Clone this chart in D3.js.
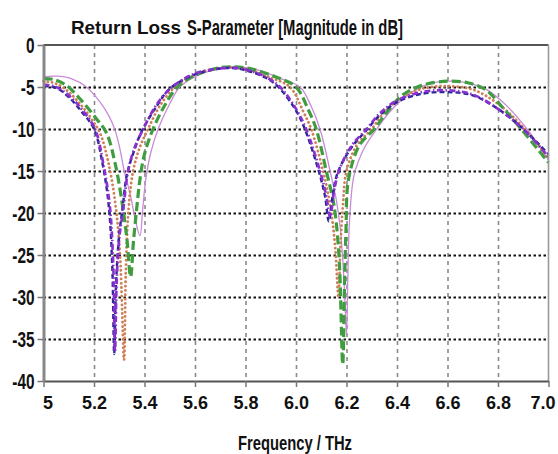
<!DOCTYPE html>
<html><head><meta charset="utf-8">
<script src="https://cdn.jsdelivr.net/npm/d3@7"></script>
<style>body{margin:0;background:#fff}svg{display:block}</style>
</head><body><svg id="c" width="558" height="454"></svg>
<script>
// ---- data ----
const xTicks = [5.0, 5.2, 5.4, 5.6, 5.8, 6.0, 6.2, 6.4, 6.6, 6.8, 7.0];
const xTickLabels = ["5", "5.2", "5.4", "5.6", "5.8", "6.0", "6.2", "6.4", "6.6", "6.8", "7.0"];
const yTicks = [0, -5, -10, -15, -20, -25, -30, -35, -40];
const yTickLabels = ["0", "-5", "-10", "-15", "-20", "-25", "-30", "-35", "-40"];
const titleMain = "Return Loss";
const titleSub = "S-Parameter [Magnitude in dB]";
const xTitle = "Frequency / THz";

const orchidFreq = [5.00,5.05,5.11,5.17,5.224,5.26,5.283,5.30,5.32,5.345,5.365,5.382,5.393,5.405,5.425,5.454,5.50,5.54,5.62,5.72,5.78,5.85,5.94,6.016,6.06,6.095,6.135,6.16,6.176,6.19,6.20,6.205,6.212,6.23,6.27,6.32,6.37,6.44,6.52,6.60,6.68,6.76,6.84,6.92,7.00];
const orchidDb   = [-3.8,-3.7,-4.0,-5.0,-6.8,-8.5,-10.1,-12,-15,-18,-21,-22.7,-19.5,-16,-12.8,-10,-7,-5,-3.5,-2.7,-2.6,-3.0,-4.0,-5,-7.3,-10,-15,-18.5,-22,-28,-34.5,-28,-21,-15.5,-12.3,-10,-8,-6,-4.7,-4.3,-4.5,-5.4,-7.4,-10.2,-13.7];

const orangeFreq = [5.00,5.05,5.10,5.15,5.19,5.224,5.257,5.285,5.303,5.319,5.326,5.337,5.355,5.38,5.414,5.46,5.52,5.60,5.70,5.76,5.82,5.90,5.976,6.03,6.06,6.107,6.135,6.155,6.168,6.176,6.186,6.20,6.24,6.30,6.35,6.42,6.50,6.60,6.70,6.80,6.90,7.00];
const orangeDb   = [-4.3,-4.6,-5.6,-7.2,-8.8,-10.5,-14,-19,-25,-37.5,-27,-19.5,-15,-12.3,-10,-7.3,-5,-3.5,-2.75,-2.7,-3.0,-3.9,-5,-8,-10,-15,-19,-24,-30,-24,-19,-15,-12,-10,-8,-6.3,-5.2,-4.9,-5.3,-7.0,-9.8,-13.5];

const greenFreq = [5.00,5.04,5.09,5.15,5.21,5.25,5.283,5.31,5.33,5.345,5.356,5.369,5.382,5.40,5.434,5.48,5.53,5.60,5.70,5.76,5.83,5.92,6.00,6.05,6.08,6.12,6.15,6.17,6.185,6.192,6.198,6.208,6.25,6.31,6.36,6.42,6.50,6.60,6.68,6.75,6.82,6.90,7.00];
const greenDb   = [-4.0,-4.1,-4.8,-6.6,-8.8,-10.5,-14,-18.5,-23,-27.6,-23.5,-19.5,-16,-13,-10,-7.2,-5,-3.6,-2.7,-2.6,-2.9,-3.8,-5,-7.8,-10,-15,-19,-25,-38,-29,-22,-16,-12,-10,-8,-6,-4.8,-4.3,-4.5,-5.3,-7.5,-10.3,-14];

const navyFreq = [5.00,5.05,5.10,5.15,5.20,5.233,5.258,5.272,5.28,5.288,5.30,5.313,5.33,5.36,5.39,5.45,5.50,5.60,5.70,5.75,5.80,5.88,5.93,6.00,6.035,6.09,6.115,6.13,6.145,6.165,6.22,6.28,6.33,6.40,6.50,6.60,6.70,6.80,6.90,7.00];
const navyDb   = [-4.9,-5.1,-6.2,-7.9,-10,-14,-19,-26,-36.8,-28,-22.5,-19.5,-15.5,-12.5,-10.2,-7.2,-5.2,-3.5,-2.8,-2.75,-3.0,-3.9,-5,-7.8,-10,-15,-18,-21,-18,-15.2,-12.2,-10.1,-8.4,-6.8,-5.8,-5.6,-6.0,-7.6,-10.0,-13.0];

const violetFreq = [5.00,5.05,5.10,5.15,5.204,5.236,5.262,5.276,5.283,5.29,5.30,5.316,5.335,5.36,5.395,5.45,5.51,5.60,5.70,5.75,5.80,5.88,5.937,6.00,6.04,6.095,6.12,6.135,6.15,6.17,6.22,6.28,6.33,6.40,6.50,6.60,6.70,6.80,6.90,7.00];
const violetDb   = [-4.7,-5.0,-6.0,-7.6,-10,-14,-19,-26,-36.5,-28,-23,-19.5,-15,-12.3,-10,-7,-5,-3.4,-2.8,-2.7,-2.9,-3.8,-5,-7.6,-10,-15,-18,-20.5,-17.5,-15,-12,-10,-8.2,-6.6,-5.6,-5.4,-5.9,-7.6,-10,-13.3];

const seriesList = [
  {name: "orchid", f: orchidFreq, v: orchidDb, color: "#c98bd8", width: 1.3, dash: null},
  {name: "orange", f: orangeFreq, v: orangeDb, color: "#cf7f55", width: 2.8, dash: "0.1,4.2"},
  {name: "green",  f: greenFreq,  v: greenDb,  color: "#3f9d3f", width: 3.2, dash: "9,4"},
  {name: "navy",   f: navyFreq,   v: navyDb,   color: "#2a2696", width: 2.4, dash: "5,3"},
  {name: "violet", f: violetFreq, v: violetDb, color: "#8a2fd0", width: 2.7, dash: "6,2.5,1.5,2.5"}
];

// ---- layout ----
const svg = d3.select("#c");
svg.append("rect").attr("width", 558).attr("height", 454).attr("fill", "#fff");
const x = d3.scaleLinear().domain([5, 7]).range([43.5, 548.5]);
const y = d3.scaleLinear().domain([0, -40]).range([45, 381]);

// vertical grid (gray dashed)
svg.append("g").attr("transform", "translate(0,45)")
  .call(d3.axisBottom(x).tickValues(xTicks.slice(1, -1)).tickSize(336).tickFormat(""))
  .call(g => g.select(".domain").remove())
  .call(g => g.selectAll("line").attr("stroke", "#8a8a8a").attr("stroke-width", 1.6).attr("stroke-dasharray", "4,4"));

// horizontal grid (black dotted)
svg.append("g").attr("transform", "translate(43.5,0)")
  .call(d3.axisRight(y).tickValues(yTicks.slice(1, -1)).tickSize(505).tickFormat(""))
  .call(g => g.select(".domain").remove())
  .call(g => g.selectAll("line").attr("stroke", "#111").attr("stroke-width", 2.2).attr("stroke-dasharray", "2.5,2.5"));

// curves
const line = d3.line().x(d => x(d[0])).y(d => y(d[1])).curve(d3.curveCatmullRom.alpha(0.5));
seriesList.forEach(s => {
  const pts = s.f.map((f, i) => [f, s.v[i]]);
  const p = svg.append("path").datum(pts).attr("d", line)
    .attr("fill", "none").attr("stroke", s.color).attr("stroke-width", s.width)
    .attr("stroke-linejoin", "round");
  if (s.dash) p.attr("stroke-dasharray", s.dash).attr("stroke-linecap", s.name === "orange" ? "round" : "butt");
});

// frame
svg.append("line").attr("x1", 43.5).attr("x2", 548.5).attr("y1", 45).attr("y2", 45).attr("stroke", "#555").attr("stroke-width", 2);
svg.append("line").attr("x1", 548.5).attr("x2", 548.5).attr("y1", 45).attr("y2", 381).attr("stroke", "#999").attr("stroke-width", 1.6);

// bottom axis
const xAxisG = svg.append("g").attr("transform", "translate(0,381)")
  .call(d3.axisBottom(x).tickValues(xTicks).tickSize(6).tickSizeOuter(0).tickPadding(9)
    .tickFormat((d, i) => xTickLabels[i]));
xAxisG.select(".domain").attr("stroke", "#555").attr("stroke-width", 2);
xAxisG.selectAll(".tick line").attr("stroke", "#777").attr("stroke-width", 1.5);
xAxisG.selectAll(".tick text").attr("font-family", "Arial, 'Liberation Sans', sans-serif")
  .attr("font-weight", "bold").attr("font-size", 18).attr("fill", "#111")
  .attr("dx", (d, i) => i === 0 ? 4 : (i === xTicks.length - 1 ? -6 : 0));

// left axis
const yAxisG = svg.append("g").attr("transform", "translate(43.5,0)")
  .call(d3.axisLeft(y).tickValues(yTicks).tickSize(6).tickSizeOuter(0).tickPadding(0)
    .tickFormat((d, i) => yTickLabels[i]));
yAxisG.select(".domain").attr("stroke", "#888").attr("stroke-width", 3);
yAxisG.selectAll(".tick line").attr("stroke", "#777").attr("stroke-width", 1.5);
yAxisG.selectAll(".tick text").attr("font-family", "Arial, 'Liberation Sans', sans-serif")
  .attr("font-weight", "bold").attr("font-size", 22).attr("fill", "#111")
  .attr("x", -9 / 0.7).attr("dy", "0.36em").attr("transform", "scale(0.7,1)");

// titles
svg.append("text").attr("x", 71).attr("y", 34).text(titleMain)
  .attr("font-family", "Arial, 'Liberation Sans', sans-serif").attr("font-weight", "bold")
  .attr("font-size", 19).attr("fill", "#111").attr("textLength", 110).attr("lengthAdjust", "spacingAndGlyphs");
svg.append("text").attr("x", 187).attr("y", 35).text(titleSub)
  .attr("font-family", "Arial, 'Liberation Sans', sans-serif").attr("font-weight", "bold")
  .attr("font-size", 22).attr("fill", "#111").attr("textLength", 216).attr("lengthAdjust", "spacingAndGlyphs");
svg.append("text").attr("x", 238).attr("y", 450).text(xTitle)
  .attr("font-family", "Arial, 'Liberation Sans', sans-serif").attr("font-weight", "bold")
  .attr("font-size", 21).attr("fill", "#111").attr("textLength", 114).attr("lengthAdjust", "spacingAndGlyphs");
</script></body></html>
